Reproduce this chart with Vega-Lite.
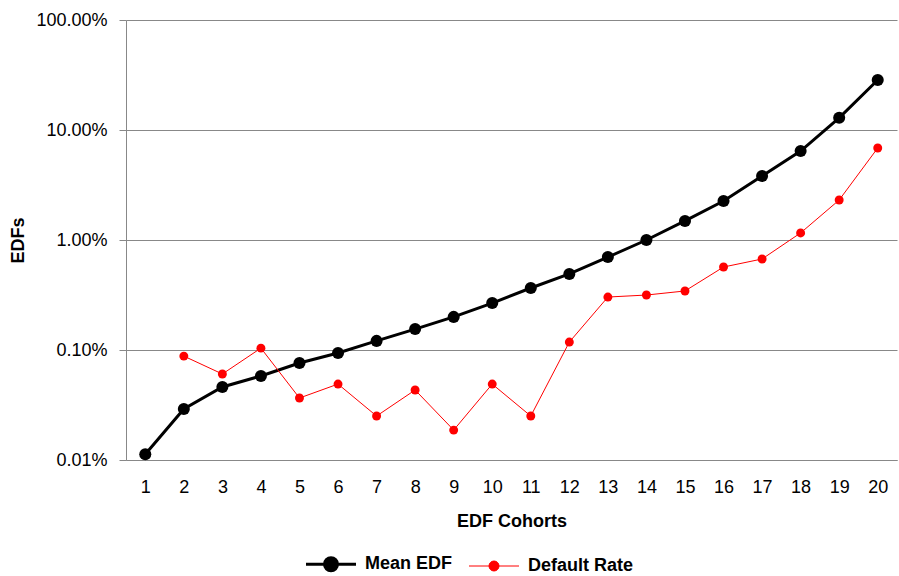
{
  "$schema": "https://vega.github.io/schema/vega-lite/v6.json",
  "width": 771,
  "height": 440,
  "autosize": {"type": "none"},
  "padding": {"left": 126, "top": 20, "right": 2, "bottom": 116},
  "background": "white",
  "config": {
    "view": {"stroke": null},
    "font": "Liberation Sans",
    "axis": {"labelFont": "Liberation Sans", "titleFont": "Liberation Sans", "labelColor": "black", "titleColor": "black", "domainColor": "#888888", "tickColor": "#888888", "gridColor": "#888888", "gridOpacity": 1}
  },
  "data": {"values": [
    {"cohort": 1, "series": "Mean EDF", "value": 0.000113},
    {"cohort": 2, "series": "Mean EDF", "value": 0.000291},
    {"cohort": 3, "series": "Mean EDF", "value": 0.000461},
    {"cohort": 4, "series": "Mean EDF", "value": 0.00058},
    {"cohort": 5, "series": "Mean EDF", "value": 0.000762},
    {"cohort": 6, "series": "Mean EDF", "value": 0.00094},
    {"cohort": 7, "series": "Mean EDF", "value": 0.00121},
    {"cohort": 8, "series": "Mean EDF", "value": 0.00155},
    {"cohort": 9, "series": "Mean EDF", "value": 0.0020},
    {"cohort": 10, "series": "Mean EDF", "value": 0.00267},
    {"cohort": 11, "series": "Mean EDF", "value": 0.00366},
    {"cohort": 12, "series": "Mean EDF", "value": 0.00491},
    {"cohort": 13, "series": "Mean EDF", "value": 0.0070},
    {"cohort": 14, "series": "Mean EDF", "value": 0.0100},
    {"cohort": 15, "series": "Mean EDF", "value": 0.0149},
    {"cohort": 16, "series": "Mean EDF", "value": 0.0226},
    {"cohort": 17, "series": "Mean EDF", "value": 0.0382},
    {"cohort": 18, "series": "Mean EDF", "value": 0.0644},
    {"cohort": 19, "series": "Mean EDF", "value": 0.129},
    {"cohort": 20, "series": "Mean EDF", "value": 0.285},
    {"cohort": 2, "series": "Default Rate", "value": 0.00088},
    {"cohort": 3, "series": "Default Rate", "value": 0.000605},
    {"cohort": 4, "series": "Default Rate", "value": 0.00104},
    {"cohort": 5, "series": "Default Rate", "value": 0.000366},
    {"cohort": 6, "series": "Default Rate", "value": 0.00049},
    {"cohort": 7, "series": "Default Rate", "value": 0.000251},
    {"cohort": 8, "series": "Default Rate", "value": 0.000433},
    {"cohort": 9, "series": "Default Rate", "value": 0.000187},
    {"cohort": 10, "series": "Default Rate", "value": 0.00049},
    {"cohort": 11, "series": "Default Rate", "value": 0.000251},
    {"cohort": 12, "series": "Default Rate", "value": 0.00118},
    {"cohort": 13, "series": "Default Rate", "value": 0.00303},
    {"cohort": 14, "series": "Default Rate", "value": 0.00316},
    {"cohort": 15, "series": "Default Rate", "value": 0.00344},
    {"cohort": 16, "series": "Default Rate", "value": 0.00568},
    {"cohort": 17, "series": "Default Rate", "value": 0.00672},
    {"cohort": 18, "series": "Default Rate", "value": 0.0116},
    {"cohort": 19, "series": "Default Rate", "value": 0.0231},
    {"cohort": 20, "series": "Default Rate", "value": 0.0686}
  ]},
  "encoding": {
    "x": {
      "field": "cohort", "type": "ordinal",
      "scale": {"type": "point", "padding": 0.5},
      "axis": {"title": "EDF Cohorts", "labelAngle": 0, "labelFontSize": 18, "titleFontSize": 18, "titleFontWeight": "bold", "ticks": false, "labelPadding": 18, "titlePadding": 16, "grid": false}
    },
    "y": {
      "field": "value", "type": "quantitative",
      "scale": {"type": "log", "domain": [0.0001, 1]},
      "axis": {"title": "EDFs", "format": ".2%", "values": [0.0001, 0.001, 0.01, 0.1, 1], "labelFontSize": 18, "titleFontSize": 18, "titleFontWeight": "bold", "tickSize": 7, "labelPadding": 12, "titlePadding": 8, "grid": true}
    },
    "color": {
      "field": "series", "type": "nominal",
      "scale": {"domain": ["Mean EDF", "Default Rate"], "range": ["black", "red"]},
      "legend": {
        "title": null, "orient": "none", "direction": "horizontal",
        "legendX": 196, "legendY": 535,
        "labelFontSize": 18, "labelFontWeight": "bold", "labelColor": "black",
        "symbolSize": 2500, "symbolType": "M-1,0L1,0M-0.26,0A0.26,0.26,0,1,1,0.26,0A0.26,0.26,0,1,1,-0.26,0Z",
        "columnPadding": 14, "labelOffset": 25,
        "encode": {"symbols": {"update": {
          "fill": {"signal": "datum.value === 'Mean EDF' ? 'black' : 'red'"},
          "stroke": {"signal": "datum.value === 'Mean EDF' ? 'black' : 'red'"},
          "strokeWidth": {"signal": "datum.value === 'Mean EDF' ? 3 : 1"},
          "opacity": {"value": 1},
          "shape": {"signal": "datum.value === 'Mean EDF' ? 'M-1,0L1,0M-0.26,0A0.26,0.26,0,1,1,0.26,0A0.26,0.26,0,1,1,-0.26,0Z' : 'M-1,0L1,0M-0.2,0A0.2,0.2,0,1,1,0.2,0A0.2,0.2,0,1,1,-0.2,0Z'"}
        }}}
      }
    }
  },
  "layer": [
    {"transform": [{"filter": "datum.series === 'Mean EDF'"}], "mark": {"type": "line", "strokeWidth": 3}},
    {"transform": [{"filter": "datum.series === 'Mean EDF'"}], "mark": {"type": "point", "filled": true, "opacity": 1, "size": 145}},
    {"transform": [{"filter": "datum.series === 'Default Rate'"}], "mark": {"type": "line", "strokeWidth": 1}},
    {"transform": [{"filter": "datum.series === 'Default Rate'"}], "mark": {"type": "point", "filled": true, "opacity": 1, "size": 80}}
  ]
}
